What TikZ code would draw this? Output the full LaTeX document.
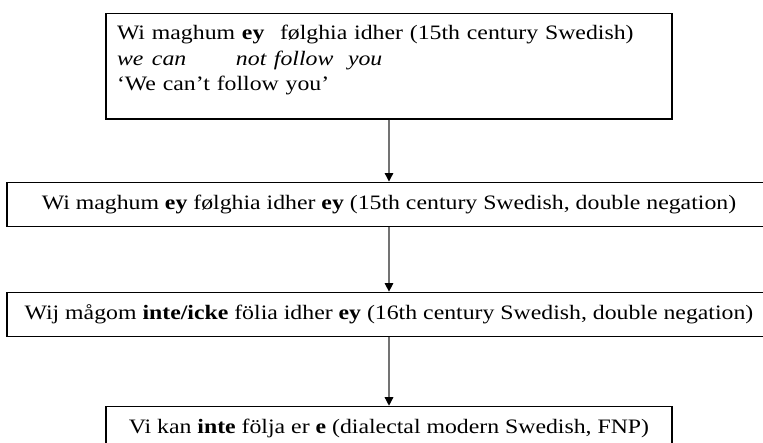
\documentclass[tikz,border=0pt]{standalone}
\usepackage{fontspec}
\setmainfont[FakeStretch=1.16]{Liberation Serif}
\usetikzlibrary{arrows.meta, positioning}

\begin{document}
\begin{tikzpicture}[
    x=1pt, y=1pt,
    box/.style={rectangle, draw, line width=1.1pt, inner xsep=11pt, font=\fontsize{20.5}{25.5}\selectfont},
    wide/.style={box, minimum width=764pt, minimum height=44pt},
    arrow/.style={-{Triangle[width=8.5pt, length=8.5pt, color=black]}, draw=black!55, line width=1.2pt}
]
\path[use as bounding box, clip] (0,0) rectangle (763,-442);

\node[box, anchor=north, text width=544pt, align=left, inner ysep=12pt] (old) at (389,-13)
    {\makebox[163pt][l]{Wi maghum \textbf{ey}}følghia idher (15th century Swedish)\\
     \makebox[35pt][l]{\textit{we}}\makebox[84pt][l]{\textit{can}}\makebox[38pt][l]{\textit{not}}\makebox[74pt][l]{\textit{follow}}\textit{you}\\
     ‘We can’t follow you’\rule[-16pt]{0pt}{16pt}};
\node[wide, below=62pt of old] (dbl) {Wi maghum \textbf{ey} følghia idher \textbf{ey} (15th century Swedish, double negation)};
\node[wide, below=65pt of dbl] (dbl16) {Wij mågom \textbf{inte/icke} fölia idher \textbf{ey} (16th century Swedish, double negation)};
\node[box, minimum width=566pt, minimum height=44pt, below=69pt of dbl16] (modern) {Vi kan \textbf{inte} följa er \textbf{e} (dialectal modern Swedish, FNP)};

\draw[arrow] (old) -- (dbl);
\draw[arrow] (dbl) -- (dbl16);
\draw[arrow] (dbl16) -- (modern);
\end{tikzpicture}
\end{document}
